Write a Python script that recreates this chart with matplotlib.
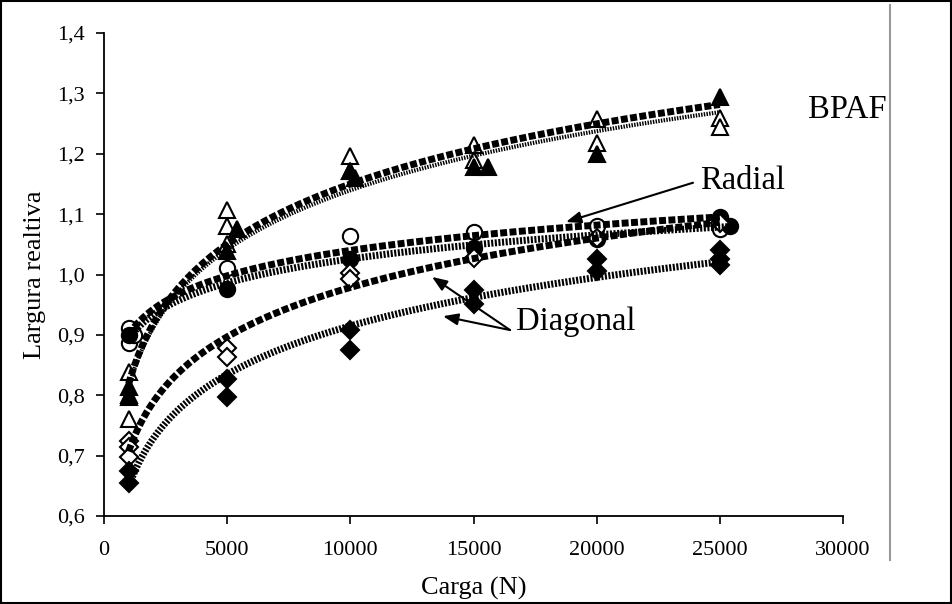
import numpy as np
import matplotlib
matplotlib.use('Agg')
import matplotlib.pyplot as plt
from matplotlib.lines import Line2D
from matplotlib.patches import Rectangle

plt.rcParams['font.family'] = ['Liberation Serif', 'DejaVu Serif']

# ---- data ----
bpaf_open_x = [1000, 1000, 1000, 5000, 5000, 5000, 10000, 10000, 15000, 15000, 20000, 20000, 25000, 25000]
bpaf_open_y = [0.839, 0.797, 0.760, 1.107, 1.081, 1.051, 1.197, 1.171, 1.214, 1.190, 1.257, 1.218, 1.259, 1.244]

bpaf_fill_x = [1000, 1000, 5000, 5400, 10000, 10200, 15000, 15600, 20000, 25000]
bpaf_fill_y = [0.814, 0.800, 1.039, 1.076, 1.171, 1.160, 1.178, 1.178, 1.200, 1.294]

rad_open_x = [1000, 1000, 1200, 5000, 10000, 15000, 20000, 25000, 25000]
rad_open_y = [0.912, 0.886, 0.900, 1.010, 1.064, 1.070, 1.081, 1.088, 1.076]

rad_fill_x = [1000, 5000, 10000, 15000, 20000, 25000, 25400]
rad_fill_y = [0.900, 0.976, 1.025, 1.044, 1.058, 1.095, 1.080]

diag_open_x = [1000, 1000, 1000, 5000, 5000, 10000, 10000, 15000, 20000, 25000]
diag_open_y = [0.725, 0.714, 0.697, 0.878, 0.864, 1.002, 0.993, 1.027, 1.060, 1.085]

diag_fill_x = [1000, 1000, 5000, 5000, 10000, 10000, 15000, 15000, 20000, 20000, 25000, 25000, 25000]
diag_fill_y = [0.675, 0.654, 0.827, 0.797, 0.908, 0.875, 0.975, 0.951, 1.025, 1.005, 1.040, 1.025, 1.015]

x_ticks = [0, 5000, 10000, 15000, 20000, 25000, 30000]
y_ticks = [0.6, 0.7, 0.8, 0.9, 1.0, 1.1, 1.2, 1.3, 1.4]
y_ticklabels = ['0,6', '0,7', '0,8', '0,9', '1,0', '1,1', '1,2', '1,3', '1,4']

W, H = 952, 604
fig = plt.figure(figsize=(W / 100, H / 100), dpi=100)
ax = fig.add_axes([104 / W, 1 - 516 / H, (843 - 104) / W, (516 - 33) / H])

ms = 11
mew = 1.5
# markers
ax.plot(bpaf_open_x, bpaf_open_y, ls='none', marker='^', ms=ms, mfc='white', mec='black', mew=mew, zorder=3)
ax.plot(bpaf_fill_x, bpaf_fill_y, ls='none', marker='^', ms=ms, mfc='black', mec='black', mew=mew, zorder=3)
ax.plot(rad_open_x, rad_open_y, ls='none', marker='o', ms=ms, mfc='white', mec='black', mew=mew, zorder=3)
ax.plot(rad_fill_x, rad_fill_y, ls='none', marker='o', ms=ms, mfc='black', mec='black', mew=mew, zorder=3)
ax.plot(diag_open_x, diag_open_y, ls='none', marker='D', ms=ms - 2, mfc='white', mec='black', mew=mew, zorder=3)
ax.plot(diag_fill_x, diag_fill_y, ls='none', marker='D', ms=ms - 2, mfc='black', mec='black', mew=mew, zorder=3)


def log_trend(xs, ys):
    xs = np.asarray(xs, float)
    ys = np.asarray(ys, float)
    a, b = np.polyfit(np.log(xs), ys, 1)
    xx = np.linspace(xs.min(), xs.max(), 300)
    return xx, a * np.log(xx) + b


square_dash = dict(color='black', lw=5, dashes=(1.0, 0.35), dash_capstyle='butt', zorder=4)
hatch = dict(color='black', lw=5, dashes=(0.3, 0.22), dash_capstyle='butt', zorder=4)
thin_hatch = dict(color='black', lw=3, dashes=(0.35, 0.3), dash_capstyle='butt', zorder=4)

xx, yy = log_trend(bpaf_open_x, bpaf_open_y)
ax.plot(xx, yy, **square_dash)
xx, yy = log_trend(bpaf_fill_x, bpaf_fill_y)
ax.plot(xx, yy, **thin_hatch)
xx, yy = log_trend(rad_open_x, rad_open_y)
ax.plot(xx, yy, **square_dash)
xx, yy = log_trend(rad_fill_x, rad_fill_y)
ax.plot(xx, yy, **hatch)
xx, yy = log_trend(diag_open_x, diag_open_y)
ax.plot(xx, yy, **square_dash)
xx, yy = log_trend(diag_fill_x, diag_fill_y)
ax.plot(xx, yy, **hatch)

ax.set_xlim(0, 30000)
ax.set_ylim(0.6, 1.4)
ax.set_xticks(x_ticks)
ax.set_xticklabels([str(v) for v in x_ticks])
ax.set_yticks(y_ticks)
ax.set_yticklabels(y_ticklabels)
ax.tick_params(direction='out', length=6, width=1.2, labelsize=16, colors='black')
ax.tick_params(axis='x', pad=12)
ax.tick_params(axis='y', pad=8)
for s in ['top', 'right']:
    ax.spines[s].set_visible(False)
for s in ['left', 'bottom']:
    ax.spines[s].set_linewidth(1.3)

ax.set_xlabel('Carga (N)', fontsize=19, labelpad=12)
ax.set_ylabel('Largura realtiva', fontsize=19, labelpad=8)

arrow = dict(arrowstyle='-|>,head_length=0.9,head_width=0.35', color='black', lw=1.5,
             shrinkA=0, shrinkB=0)
# annotations
ax.text(28580, 1.2725, 'BPAF', fontsize=23.5, va='center', ha='left', clip_on=False)
ax.annotate('', xy=(18755, 1.087), xytext=(23911, 1.152), arrowprops=arrow)
ax.text(24195, 1.155, 'Radial', fontsize=23.5, va='center', ha='left')
ax.text(16725, 0.921, 'Diagonal', fontsize=23.5, va='center', ha='left')
ax.annotate('', xy=(13315, 0.996), xytext=(16482, 0.908), arrowprops=arrow)
ax.annotate('', xy=(13762, 0.931), xytext=(16482, 0.908), arrowprops=arrow)

# right border line (gray) and outer frame
fig.add_artist(Line2D([890 / W, 890 / W], [1 - 560 / H, 1 - 5 / H], color='#999999', lw=1.5))
fig.add_artist(Rectangle((0.001, 0.001), 0.998, 0.998, transform=fig.transFigure,
                         fill=False, edgecolor='black', lw=1.5))

fig.savefig('out.png', dpi=100)
